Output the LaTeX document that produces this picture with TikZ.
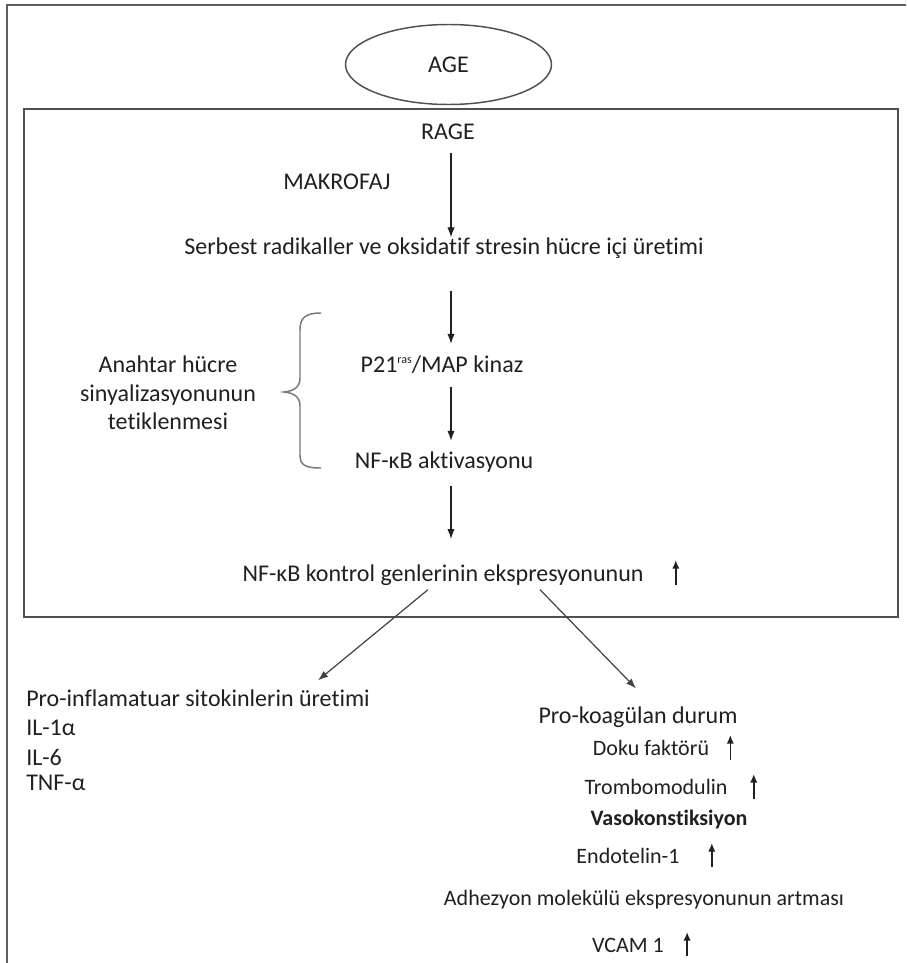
\documentclass[tikz,border=0pt]{standalone}
\usepackage{fontspec}
\setmainfont{Carlito}[Ligatures={NoCommon}]
\usetikzlibrary{arrows.meta,calc,shapes.geometric}
\definecolor{framec}{RGB}{95,95,95}
\definecolor{boxc}{RGB}{80,80,80}
\definecolor{bracec}{RGB}{120,120,120}
\definecolor{txt}{RGB}{35,31,32}
\begin{document}
\begin{tikzpicture}[x=0.75pt,y=-0.75pt,
  lbl/.style={inner sep=0pt, text=txt, font=\fontsize{18}{21.4}\selectfont},
  sm/.style={inner sep=0pt, text=txt, font=\fontsize{16.5}{19}\selectfont},
  smb/.style={inner sep=0pt, text=txt, font=\fontsize{16.5}{19}\selectfont\bfseries},
  arr/.style={draw=txt, line width=0.9pt, -{Latex[length=7.5pt,width=5.5pt]}},
  darr/.style={draw=txt!85!white, line width=0.9pt, -{Latex[length=7.5pt,width=5.5pt]}},
  uparr/.style={draw=txt, line width=1.2pt, -{Latex[length=6.5pt,width=5.5pt]}},
  framel/.style={draw=framec, line width=0.9pt},
  boxl/.style={draw=boxc, line width=1.4pt},
  agebox/.style={ellipse, draw=boxc, line width=1.1pt, minimum width=154.5pt, minimum height=60pt, inner sep=0pt, text=txt, font=\fontsize{18}{21.4}\selectfont}
]
\useasboundingbox (0,0) rectangle (906,963);
\fill[white] (0,0) rectangle (906,963);
% outer frame (top and left)
\draw[framel] (906,5) -- (7,5) -- (7,963);
% AGE
\node[agebox] (age) at (448.5,64.5) {AGE};
% inner box
\draw[boxl] (24,109) rectangle (898,617);
\coordinate (axis) at (451,0);
% nodes
\node[lbl] (rage) at (448,132) {RAGE};
\node[lbl] (makro) at (337,182) {MAKROFAJ};
\node[lbl] (serbest) at (444,248) {Serbest radikaller ve oksidatif stresin hücre içi üretimi};
\node[lbl] (p21) at (442,365) {P21\raisebox{0.38em}{\fontsize{9}{9}\selectfont ras}/MAP kinaz};
\node[lbl] (nfkb) at (444,462) {NF-κB aktivasyonu};
\node[lbl] (kontrol) at (443,575) {NF-κB kontrol genlerinin ekspresyonunun};
\node[lbl, align=center] (anahtar) at (168,393) {Anahtar hücre\\sinyalizasyonunun\\tetiklenmesi};
% brace
\draw[draw=bracec, line width=1.1pt] (321,313) .. controls (305,313) and (300,318) .. (300,330) -- (300,378)
  .. controls (300,388) and (293,391) .. (284,392) .. controls (293,393) and (300,396) .. (300,406)
  -- (300,455) .. controls (300,465) and (305,468) .. (321,468);
% vertical arrows
\draw[arr] ([yshift=-10pt]rage.south -| axis) -- ([yshift=0pt]serbest.north -| axis);
\draw[arr] ([yshift=-24pt]serbest.south -| axis) -- ([yshift=9pt]p21.north -| axis);
\draw[arr] ([yshift=-10pt]p21.south -| axis) -- ([yshift=8pt]nfkb.north -| axis);
\draw[arr] ([yshift=-10pt]nfkb.south -| axis) -- ([yshift=19pt]kontrol.north -| axis);
\draw[uparr] ($(kontrol.east)+(32,10)$) -- ++(0,-25);
% lower left
\node[lbl, anchor=west] (inflam) at (26,698) {Pro-inflamatuar sitokinlerin üretimi};
\node[lbl, anchor=west] (il1) at (26,728) {IL-1α};
\node[lbl, anchor=west] (il6) at (26,757) {IL-6};
\node[lbl, anchor=west] (tnf) at (26,783) {TNF-α};
% lower right
\node[lbl] (prok) at (638,717) {Pro-koagülan durum};
\node[sm] (doku) at (651,748) {Doku faktörü};
\node[sm] (trombo) at (656,787) {Trombomodulin};
\node[smb] (vaso) at (669,820) {Vasokonstiksiyon};
\node[sm] (endo) at (628,856) {Endotelin-1};
\node[sm] (adhe) at (644,900) {Adhezyon molekülü ekspresyonunun artması};
\node[sm] (vcam) at (628,945) {VCAM 1};
% diagonal arrows
\draw[darr] ($(kontrol.south)+(-15,4)$) -- ($(inflam.north east)+(-52,-9)$);
\draw[darr] ($(kontrol.south)+(97,4)$) -- ($(prok.north)+(-2,-18)$);
% up arrows
\draw[uparr] ($(doku.east)+(21,12)$) -- ++(0,-25);
\draw[uparr] ($(trombo.east)+(26,12)$) -- ++(0,-25);
\draw[uparr] ($(endo.east)+(32,11)$) -- ++(0,-24);
\draw[uparr] ($(vcam.east)+(23,11)$) -- ++(0,-24);
\end{tikzpicture}
\end{document}
